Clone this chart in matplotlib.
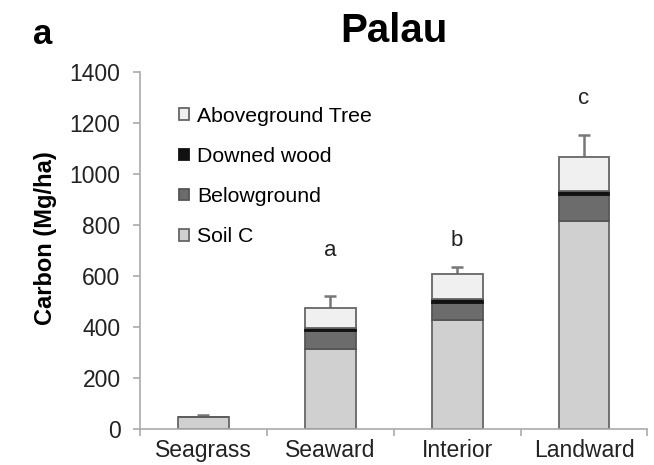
import matplotlib
matplotlib.use("Agg")
import matplotlib.pyplot as plt
import numpy as np

plt.rcParams['font.family'] = ['Liberation Sans', 'DejaVu Sans']

categories = ["Seagrass", "Seaward", "Interior", "Landward"]
soil_c = [48, 313, 426, 815]
belowground = [0, 71, 70, 100]
downed_wood = [0, 13, 13, 18]
aboveground = [0, 79, 100, 132]
errors = [6, 44, 26, 85]
letters = ["", "a", "b", "c"]
letter_y = [0, 700, 739, 1294]
yticks = [0, 200, 400, 600, 800, 1000, 1200, 1400]

fig = plt.figure(figsize=(6.54, 4.65), dpi=100)
ax = fig.add_axes([0.214, 0.077, 0.776, 0.769])

x = np.arange(len(categories))
w = 0.4
series = [
    ("Soil C", soil_c, '#d0d0d0', '#666666'),
    ("Belowground", belowground, '#6c6c6c', '#555555'),
    ("Downed wood", downed_wood, '#111111', '#111111'),
    ("Aboveground Tree", aboveground, '#f0f0f0', '#666666'),
]
bottom = np.zeros(len(categories))
handles = []
for label, vals, col, ec in series:
    vals = np.array(vals, dtype=float)
    b = ax.bar(x, vals, w, bottom=bottom, color=col, edgecolor=ec, linewidth=1.3, label=label, zorder=2)
    handles.append(b)
    bottom = bottom + vals

totals = bottom
eb = ax.errorbar(x, totals, yerr=[np.zeros(len(x)), errors], fmt='none', ecolor='#777777',
                 elinewidth=1.8, capsize=4.5, capthick=1.8, zorder=1.5)
caps = eb[1]
if len(caps) >= 2:
    caps[0].set_visible(False)

for xi, t, ly in zip(x, letters, letter_y):
    if t:
        ax.text(xi, ly, t, ha='center', va='center', fontsize=16, color='#222222')

ax.set_xlim(-0.5, 3.5)
ax.set_ylim(0, 1400)
ax.set_yticks(yticks)
ax.set_xticks(x)
ax.set_xticklabels(categories)
ax.set_xticks([-0.5, 0.5, 1.5, 2.5, 3.5], minor=True)
ax.tick_params(axis='x', which='major', length=0, pad=7, labelsize=16.5, labelcolor='#222222')
ax.tick_params(axis='x', which='minor', length=5, width=1.2, color='#aaaaaa', direction='out')
ax.tick_params(axis='y', length=5, width=1.2, color='#aaaaaa', labelsize=16.5, labelcolor='#222222', pad=9)

for s in ['top', 'right']:
    ax.spines[s].set_visible(False)
for s in ['left', 'bottom']:
    ax.spines[s].set_color('#aaaaaa')
    ax.spines[s].set_linewidth(1.2)

ax.set_ylabel("Carbon (Mg/ha)", fontsize=17, fontweight='bold', labelpad=9)
ax.yaxis.label.set_y(0.534)
ax.set_title("Palau", fontsize=29, fontweight='bold', pad=21)
fig.text(0.05, 0.905, "a", fontsize=25, fontweight='bold', ha='left', va='baseline')

leg = ax.legend(handles[::-1], [s[0] for s in series][::-1], loc='upper left',
                bbox_to_anchor=(0.077, 0.902), frameon=False, fontsize=15.3,
                handlelength=0.45, handleheight=0.45, handletextpad=0.4, labelspacing=1.0,
                borderaxespad=0, borderpad=0)

fig.savefig("out.png", dpi=100)
